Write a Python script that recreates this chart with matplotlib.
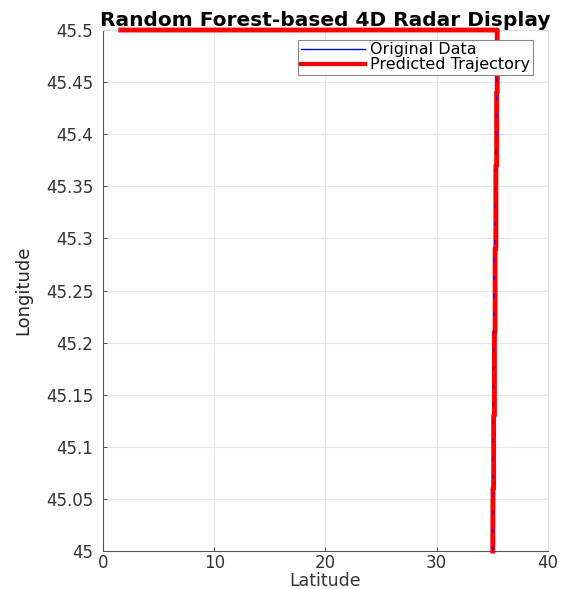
import matplotlib
matplotlib.use("Agg")
import matplotlib.pyplot as plt
from matplotlib.lines import Line2D

# Data
orig_lon = [45.000, 45.025, 45.050, 45.075, 45.100, 45.125, 45.150, 45.175, 45.200, 45.225,
            45.250, 45.275, 45.300, 45.325, 45.350, 45.375, 45.400, 45.425, 45.450, 45.475, 45.500]
orig_lat = [35.06, 35.05, 35.08, 35.07, 35.09, 35.10, 35.12, 35.11, 35.15, 35.17,
            35.19, 35.21, 35.24, 35.26, 35.30, 35.32, 35.36, 35.39, 35.42, 35.44, 35.46]

pred_lat = [1.6, 35.45, 35.45, 35.40, 35.40, 35.33, 35.33, 35.26, 35.26, 35.20,
            35.20, 35.13, 35.13, 35.07, 35.05]
pred_lon = [45.5, 45.5, 45.44, 45.44, 45.37, 45.37, 45.29, 45.29, 45.21, 45.21,
            45.13, 45.13, 45.06, 45.06, 45.0]

x_ticks = [0, 10, 20, 30, 40]
y_ticks = [45.0, 45.05, 45.1, 45.15, 45.2, 45.25, 45.3, 45.35, 45.4, 45.45, 45.5]
y_tick_labels = ["45", "45.05", "45.1", "45.15", "45.2", "45.25", "45.3", "45.35", "45.4", "45.45", "45.5"]

fig = plt.figure(figsize=(5.63, 5.89), dpi=100)
ax = fig.add_axes([0.183, 0.0645, 0.79, 0.8845])

ax.plot(pred_lat, pred_lon, color="red", lw=3.5, zorder=3, clip_on=False)
ax.plot(orig_lat, orig_lon, color="blue", lw=1.0, alpha=0.65, zorder=4,
        linestyle=(0, (3, 10)))

ax.set_xlim(0, 40)
ax.set_ylim(45.0, 45.5)
ax.set_xticks(x_ticks)
ax.set_yticks(y_ticks)
ax.set_yticklabels(y_tick_labels)
ax.grid(True, color="#e6e6e6", lw=0.8)
ax.set_axisbelow(True)
ax.tick_params(direction="in", length=3, labelsize=12, colors="#333333", width=0.6)
ax.tick_params(axis="y", pad=7)
ax.tick_params(axis="x", pad=2)
for s in ["left", "bottom"]:
    ax.spines[s].set_color("#555555")
    ax.spines[s].set_linewidth(0.8)
for s in ["top", "right"]:
    ax.spines[s].set_color("#dddddd")
    ax.spines[s].set_linewidth(0.8)

ax.set_xlabel("Latitude", fontsize=12.5, color="#333333", labelpad=0)
ax.set_ylabel("Longitude", fontsize=13, color="#262626", labelpad=10)
ax.set_title("Random Forest-based 4D Radar Display", fontsize=14.5, fontweight="bold", pad=2)

handles = [Line2D([], [], color="blue", lw=1.0), Line2D([], [], color="red", lw=3.0)]
labels = ["Original Data", "Predicted Trajectory"]
leg = ax.legend(handles, labels, loc="upper right",
                bbox_to_anchor=(0.966, 0.981), borderaxespad=0, fontsize=11.5,
                fancybox=False, framealpha=1, edgecolor="#888888",
                handlelength=4.0, handletextpad=0.35, borderpad=0.15, labelspacing=0.0)
leg.get_frame().set_linewidth(0.8)

fig.savefig("out.png", dpi=100)
